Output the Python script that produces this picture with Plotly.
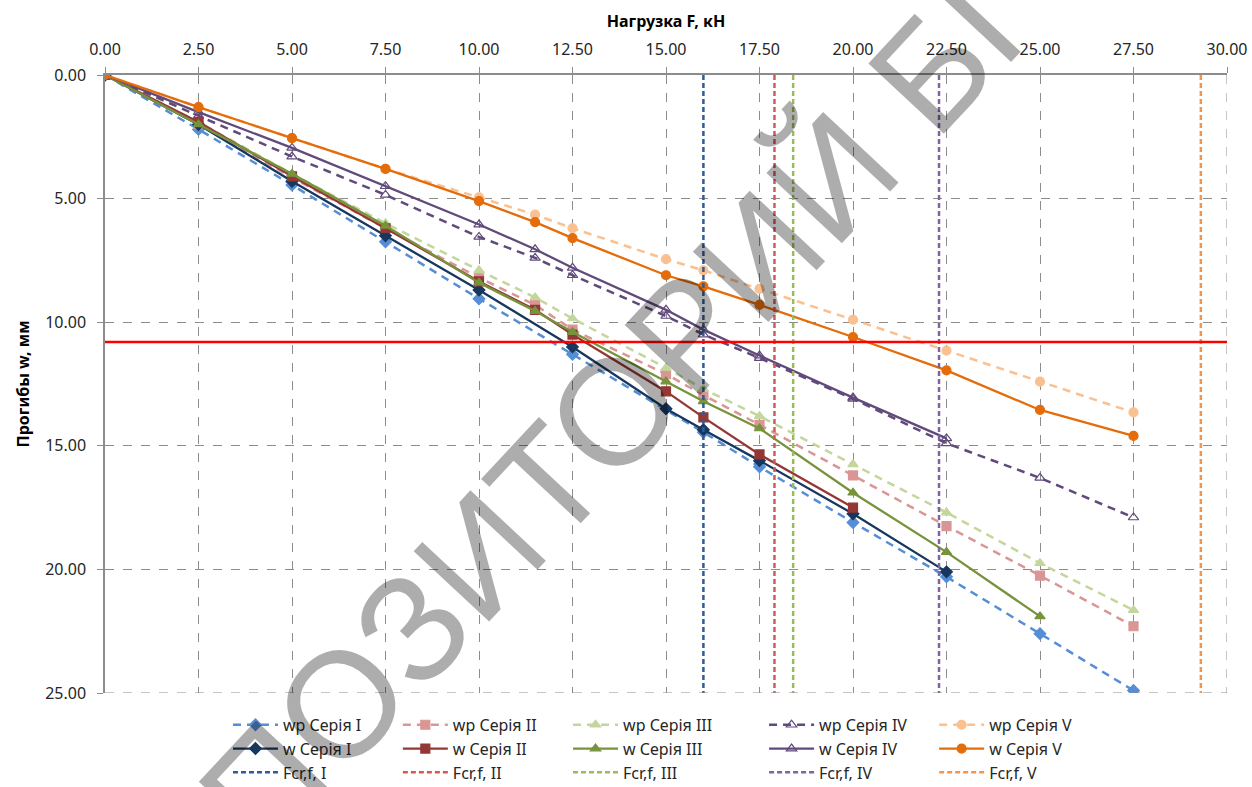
import plotly.graph_objects as go

# ---- data ----
x_full = [0, 2.5, 5, 7.5, 10, 11.5, 12.5, 15, 16, 17.5, 20, 22.5, 25, 27.5]

x_wp1 = [0, 2.5, 5, 7.5, 10, 12.5, 16, 17.5, 20, 22.5, 25, 27.5]
wp1 = [0, 2.2, 4.45, 6.75, 9.05, 11.3, 14.45, 15.85, 18.1, 20.3, 22.6, 24.9]
x_w1 = [0, 2.5, 5, 7.5, 10, 12.5, 15, 16, 17.5, 20, 22.5]
w1 = [0, 2.0, 4.3, 6.5, 8.7, 11.0, 13.5, 14.35, 15.6, 17.75, 20.1]

wp2 = [0, 2.0, 4.15, 6.2, 8.2, 9.3, 10.3, 12.1, 12.95, 14.15, 16.2, 18.25, 20.25, 22.3]
x_w2 = [0, 2.5, 5, 7.5, 10, 11.5, 12.5, 15, 16, 17.5, 20]
w2 = [0, 1.9, 4.1, 6.2, 8.35, 9.5, 10.5, 12.8, 13.85, 15.35, 17.5]

wp3 = [0, 1.9, 4.0, 6.0, 7.9, 9.0, 9.85, 11.85, 12.7, 13.8, 15.75, 17.7, 19.75, 21.65]
x_w3 = [0, 2.5, 5, 7.5, 10, 11.5, 12.5, 15, 16, 17.5, 20, 22.5, 25]
w3 = [0, 2.0, 4.0, 6.1, 8.4, 9.55, 10.4, 12.4, 13.2, 14.3, 16.9, 19.3, 21.9]

wp4 = [0, 1.65, 3.3, 4.85, 6.55, 7.4, 8.1, 9.75, 10.5, 11.45, 13.1, 14.9, 16.3, 17.9]
x_w4 = [0, 2.5, 5, 7.5, 10, 11.5, 12.5, 15, 16, 17.5, 20, 22.5]
w4 = [0, 1.5, 2.95, 4.5, 6.05, 7.05, 7.8, 9.5, 10.3, 11.35, 13.05, 14.7]

wp5 = [0, 1.3, 2.55, 3.8, 4.95, 5.65, 6.2, 7.45, 7.9, 8.65, 9.9, 11.15, 12.4, 13.65]
w5 = [0, 1.3, 2.55, 3.8, 5.1, 5.95, 6.6, 8.1, 8.55, 9.3, 10.6, 11.95, 13.55, 14.6]

fcr_names = ["Fcr,f, I", "Fcr,f, II", "Fcr,f, III", "Fcr,f, IV", "Fcr,f, V"]
fcr_values = [16.0, 17.9, 18.4, 22.3, 29.3]
w_limit = 10.8
y_span = [0, 25]
x_span = [0, 30]

# ---- figure ----
fig = go.Figure()

wp_series = [
    ("wp Серія I", x_wp1, wp1, "#558ED5", "diamond"),
    ("wp Серія II", x_full, wp2, "#D99694", "square"),
    ("wp Серія III", x_full, wp3, "#C3D69B", "triangle-up"),
    ("wp Серія IV", x_full, wp4, "#604A7B", "triangle-up-open"),
    ("wp Серія V", x_full, wp5, "#FAC090", "circle"),
]
w_series = [
    ("w Серія I", x_w1, w1, "#17375E", "diamond"),
    ("w Серія II", x_w2, w2, "#953735", "square"),
    ("w Серія III", x_w3, w3, "#77933C", "triangle-up"),
    ("w Серія IV", x_w4, w4, "#604A7B", "triangle-up-open"),
    ("w Серія V", x_full, w5, "#E46C0A", "circle"),
]
fcr_colors = ["#2F5C97", "#D05A58", "#9BBB59", "#8064A2", "#F79646"]
legend_ids = ["legend", "legend2", "legend3", "legend4", "legend5"]

# one legend per column (wp, w, Fcr stacked)
for i, (name, xs, ys, col, sym) in enumerate(wp_series):
    fig.add_trace(go.Scatter(
        x=xs, y=ys, name=name, mode="lines+markers", legend=legend_ids[i],
        legendgroup=name,
        line=dict(color=col, width=2.5, dash="8px,6px"),
        marker=dict(symbol=sym, size=9, color=col, line=dict(width=1.2, color=col)),
    ))
for i, (name, xs, ys, col, sym) in enumerate(w_series):
    fig.add_trace(go.Scatter(
        x=xs, y=ys, name=name, mode="lines+markers", legend=legend_ids[i],
        legendgroup=name,
        line=dict(color=col, width=2.3),
        marker=dict(symbol=sym, size=9, color=col, line=dict(width=1.2, color=col)),
    ))
for i, (name, val, col) in enumerate(zip(fcr_names, fcr_values, fcr_colors)):
    fig.add_trace(go.Scatter(
        x=[val, val], y=y_span, name=name, mode="lines", legend=legend_ids[i],
        legendgroup=name,
        line=dict(color=col, width=2.5, dash="5px,3px"),
    ))

fig.add_trace(go.Scatter(
    x=x_span, y=[w_limit, w_limit], mode="lines", showlegend=False,
    line=dict(color="#FF0000", width=2.5),
))

base_font = "Noto Sans, Open Sans, sans-serif"
tick_font = dict(family=base_font, size=16, color="#262626")
title_font = dict(family=base_font, size=16, color="#000000")
legend_font = dict(family=base_font, size=16, color="#262626")

legend_x = [0.1096, 0.261, 0.4127, 0.5874, 0.739]


def legend_col(x):
    return dict(
        orientation="v", x=x, y=-0.024, xanchor="left", yanchor="top",
        tracegroupgap=2, traceorder="normal",
        font=legend_font, itemwidth=45, bgcolor="rgba(0,0,0,0)",
    )


fig.update_layout(
    width=1252, height=787,
    margin=dict(l=105, r=25, t=75, b=94, autoexpand=False),
    paper_bgcolor="white", plot_bgcolor="white",
    font=dict(family=base_font, size=14, color="#262626"),
    showlegend=True,
    xaxis=dict(
        side="top", range=x_span, dtick=2.5, tick0=0, tickformat=".2f",
        showgrid=True, gridcolor="#8C8C8C", griddash="dash", gridwidth=1,
        showline=True, linecolor="#8C8C8C", linewidth=1.5,
        ticks="outside", ticklen=6, tickcolor="#8C8C8C",
        ticklabelstandoff=6,
        zeroline=False, automargin=False, tickfont=tick_font,
        title=dict(text="<b>Нагрузка F, кН</b>", standoff=6, font=title_font),
    ),
    yaxis=dict(
        range=[25, 0], dtick=5, tick0=0, tickformat=".2f",
        showgrid=True, gridcolor="#8C8C8C", griddash="dash", gridwidth=1,
        showline=True, linecolor="#8C8C8C", linewidth=1.5,
        ticks="outside", ticklen=6, tickcolor="#8C8C8C",
        ticklabelstandoff=8,
        zeroline=False, automargin=False, tickfont=tick_font,
        title=dict(text="<b>Прогибы w, мм</b>", standoff=12, font=title_font),
    ),
)
fig.update_layout({lid: legend_col(lx) for lid, lx in zip(legend_ids, legend_x)})

# right and bottom dashed frame (Excel-like grid border)
fig.add_shape(type="line", xref="x", yref="y", x0=30, x1=30, y0=0, y1=25,
              line=dict(color="#8C8C8C", width=1, dash="dash"))
fig.add_shape(type="line", xref="x", yref="y", x0=0, x1=30, y0=25, y1=25,
              line=dict(color="#8C8C8C", width=1, dash="dash"))

# watermark
fig.add_annotation(
    text="РЕПОЗИТОРИЙ БГТУ", xref="paper", yref="paper",
    x=0.459, y=0.466, xanchor="center", yanchor="middle",
    showarrow=False, textangle=-47,
    font=dict(family="Liberation Sans, Arial, sans-serif", size=150, color="rgba(0,0,0,0.32)"),
)

fig.write_html(
    "out.html",
    config={"displayModeBar": False},
    post_script="document.body.style.margin='0';document.body.style.overflow='hidden';",
)
